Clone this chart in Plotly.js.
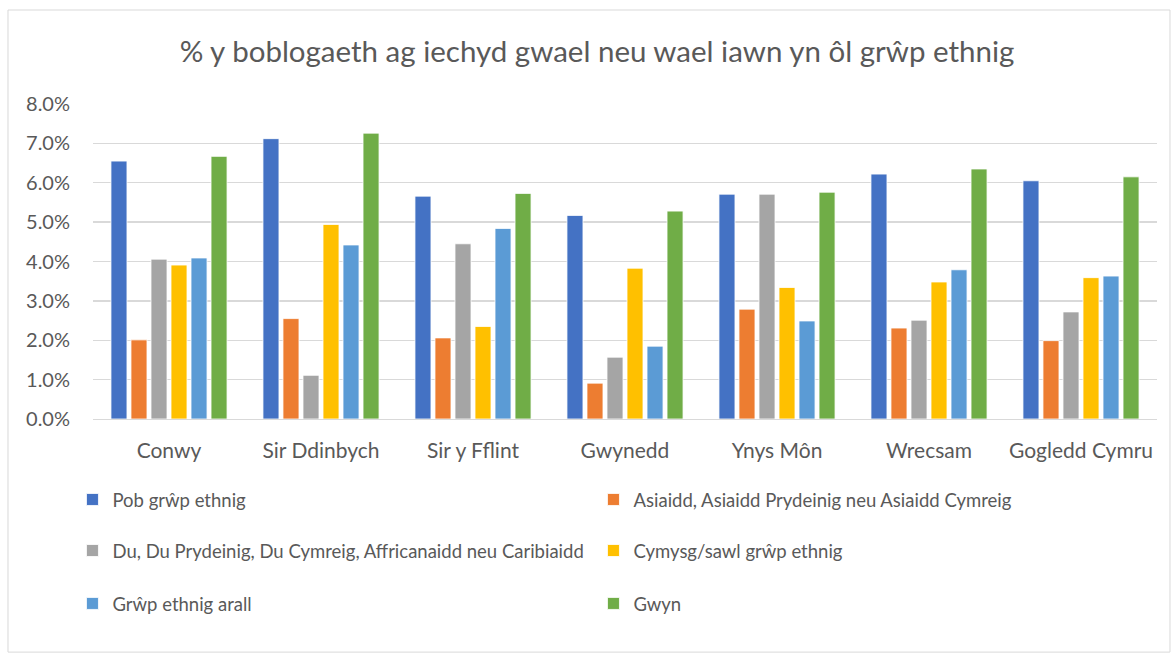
<!DOCTYPE html>
<html>
<head>
<meta charset="utf-8">
<script src="https://cdn.plot.ly/plotly-3.0.1.min.js"></script>
<style>html,body{margin:0;padding:0;background:#fff;}#chart{width:1171px;height:653px;}</style>
</head>
<body>
<div id="chart"></div>
<script>
const categories = ["Conwy", "Sir Ddinbych", "Sir y Fflint", "Gwynedd", "Ynys Môn", "Wrecsam", "Gogledd Cymru"];
const seriesNames = [
  "Pob grŵp ethnig",
  "Asiaidd, Asiaidd Prydeinig neu Asiaidd Cymreig",
  "Du, Du Prydeinig, Du Cymreig, Affricanaidd neu Caribiaidd",
  "Cymysg/sawl grŵp ethnig",
  "Grŵp ethnig arall",
  "Gwyn"
];
const pobGrwp   = [6.55, 7.12, 5.66, 5.17, 5.71, 6.22, 6.05];
const asiaidd   = [2.01, 2.55, 2.06, 0.91, 2.79, 2.31, 1.99];
const du        = [4.06, 1.11, 4.45, 1.57, 5.71, 2.51, 2.72];
const cymysg    = [3.91, 4.94, 2.35, 3.83, 3.34, 3.48, 3.59];
const arall     = [4.09, 4.42, 4.84, 1.85, 2.49, 3.79, 3.63];
const gwyn      = [6.67, 7.26, 5.73, 5.28, 5.76, 6.35, 6.15];
const yTicks = [0, 1, 2, 3, 4, 5, 6, 7, 8];

const seriesValues = [pobGrwp, asiaidd, du, cymysg, arall, gwyn];
const colors = ["#4472C4", "#ED7D31", "#A5A5A5", "#FFC000", "#5B9BD5", "#70AD47"];
const legendIds = ["legend", "legend", "legend2", "legend2", "legend3", "legend3"];

const FONT = "Lato, 'Open Sans', sans-serif";
const traces = seriesValues.map((vals, i) => ({
  type: "bar",
  name: seriesNames[i],
  x: categories,
  y: vals,
  marker: {color: colors[i], line: {color: "#ffffff", width: 0.8}},
  legend: legendIds[i],
  hoverinfo: "x+y+name"
}));

const legendBase = {
  orientation: "h",
  x: -0.0193, xanchor: "left",
  yanchor: "middle",
  entrywidth: 476, entrywidthmode: "pixels",
  font: {family: FONT, size: 18.5, color: "#595959"},
  bgcolor: "rgba(0,0,0,0)",
  itemclick: false, itemdoubleclick: false,
  traceorder: "normal"
};

const layout = {
  width: 1171, height: 653,
  margin: {l: 93, r: 14, t: 104, b: 234},
  paper_bgcolor: "#ffffff",
  plot_bgcolor: "#ffffff",
  font: {family: FONT, color: "#595959"},
  title: {
    text: "% y boblogaeth ag iechyd gwael neu wael iawn yn ôl grŵp ethnig",
    font: {family: FONT, size: 29.5, color: "#595959"},
    x: 0.4737, xref: "paper", xanchor: "center",
    y: 52, yref: "container", yanchor: "middle"
  },
  barmode: "group",
  bargap: 0.21,
  bargroupgap: 0.2,
  xaxis: {
    type: "category",
    tickfont: {family: FONT, size: 21, color: "#595959"},
    showgrid: false,
    showline: true, linecolor: "#d9d9d9", linewidth: 1.3,
    ticks: "",
    ticklabelstandoff: 12
  },
  yaxis: {
    range: [0, 8],
    tickvals: yTicks,
    ticktext: yTicks.map(v => v.toFixed(1) + "%"),
    tickfont: {family: FONT, size: 20, color: "#595959"},
    showgrid: true, gridcolor: "#d9d9d9", gridwidth: 1.3,
    zeroline: false, showline: false, ticks: "",
    ticklabelstandoff: 22
  },
  legend: Object.assign({}, legendBase, {y: -0.257}),
  legend2: Object.assign({}, legendBase, {y: -0.419}),
  legend3: Object.assign({}, legendBase, {y: -0.587}),
  showlegend: true,
  shapes: [{
    type: "rect", xref: "paper", yref: "paper",
    x0: -0.0799, x1: 1.0122, y0: -0.74, y1: 1.2984,
    line: {color: "#d9d9d9", width: 1}, fillcolor: "rgba(0,0,0,0)", layer: "below"
  }]
};

Plotly.newPlot("chart", traces, layout, {displayModeBar: false, staticPlot: true});
</script>
</body>
</html>
